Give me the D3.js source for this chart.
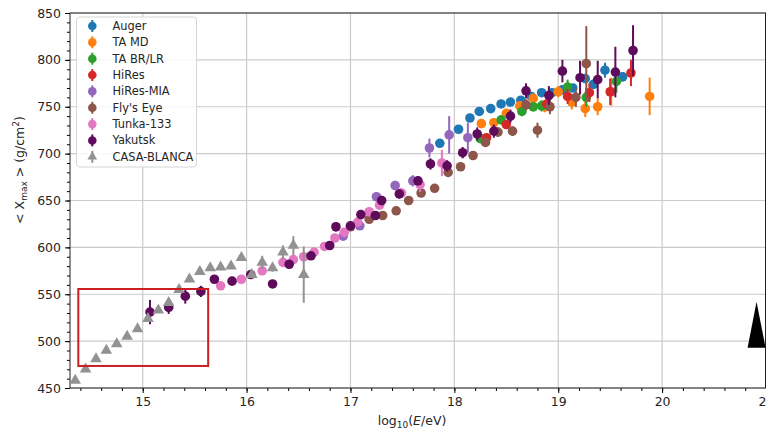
<!DOCTYPE html>
<html>
<head>
<meta charset="utf-8">
<script src="https://cdn.jsdelivr.net/npm/d3@7"></script>
<style>
  body { margin: 0; background: #fff; }
  text { font-family: "DejaVu Sans", sans-serif; fill: #262626; }
</style>
</head>
<body>
<div class="chart"></div>
<script>
// series data, log10(E/eV) vs <Xmax> (g/cm2) with errors
const augerLogE = [17.86, 18.04, 18.15, 18.24, 18.35, 18.45, 18.54, 18.64, 18.74, 18.84, 18.94, 19.04, 19.14, 19.26, 19.34, 19.45, 19.62];
const augerX    = [711, 726, 738, 745, 748, 753, 755, 757, 761, 765, 765, 768, 770, 780, 774, 789, 782];
const augerErr  = [3, 2, 2, 2, 2, 2, 2, 2, 2, 2, 3, 3, 3, 4, 5, 8, 5];

const tamdLogE = [18.26, 18.38, 18.5, 18.63, 18.76, 18.87, 19.0, 19.13, 19.26, 19.38, 19.51, 19.88];
const tamdX    = [732, 733, 743, 751, 759, 750, 766, 755, 748, 750, 766, 761];
const tamdErr  = [4, 4, 4, 5, 5, 6, 6, 8, 9, 9, 15, 20];

const tabrLogE = [18.25, 18.45, 18.65, 18.76, 18.84, 19.09, 19.27, 19.56];
const tabrX    = [716, 736, 745, 750, 751, 771, 760, 777];
const tabrErr  = [4, 4, 5, 5, 6, 8, 10, 12];

const hiresLogE = [18.31, 18.5, 18.89, 19.09, 19.3, 19.5, 19.7];
const hiresX    = [717, 731, 753, 761, 765, 766, 786];
const hiresErr  = [4, 4, 6, 8, 10, 14, 14];

const miaLogE = [16.93, 17.09, 17.25, 17.43, 17.6, 17.76, 17.95, 18.13];
const miaX    = [612, 623, 654, 666, 671, 706, 720, 717];
const miaErr  = [4, 4, 5, 5, 6, 10, 20, 16];

const flyLogE = [17.0, 17.18, 17.31, 17.44, 17.56, 17.68, 17.81, 17.94, 18.06, 18.18, 18.3, 18.42, 18.56, 18.69, 18.8, 18.92, 19.17, 19.27];
const flyX    = [622, 630, 634, 639, 650, 658, 663, 680, 686, 698, 712, 723, 724, 752, 725, 750, 760, 796];
const flyErr  = [3, 3, 3, 3, 3, 3, 3, 3, 4, 4, 4, 5, 5, 6, 8, 8, 10, 40];

const tunkaLogE = [15.75, 15.95, 16.15, 16.35, 16.45, 16.55, 16.65, 16.75, 16.85, 16.94, 17.07, 17.18, 17.28, 17.49, 17.67, 17.88];
const tunkaX    = [559, 566, 575, 584, 587, 590, 595, 601, 610, 616, 627, 638, 645, 658, 667, 690];
const tunkaErr  = [3, 3, 3, 3, 3, 3, 3, 3, 3, 3, 3, 4, 4, 5, 8, 14];

const yakLogE = [15.07, 15.25, 15.41, 15.56, 15.69, 15.86, 16.04, 16.25, 16.41, 16.62, 16.8, 16.86, 17.0, 17.1, 17.24, 17.3, 17.47, 17.65, 17.77, 17.93, 18.08, 18.22, 18.38, 18.54, 18.69, 18.91, 19.04, 19.21, 19.38, 19.55, 19.72];
const yakX    = [531, 536, 548, 553, 566, 564, 571, 561, 582, 591, 602, 622, 623, 635, 634, 650, 657, 671, 689, 687, 701, 721, 724, 740, 767, 762, 788, 781, 779, 787, 810];
const yakErr  = [13, 7, 8, 6, 4, 4, 4, 4, 4, 4, 4, 5, 4, 4, 4, 5, 5, 5, 6, 6, 6, 7, 7, 7, 8, 10, 12, 18, 20, 27, 27];

const casaLogE = [14.35, 14.45, 14.55, 14.65, 14.75, 14.85, 14.95, 15.05, 15.15, 15.25, 15.35, 15.45, 15.55, 15.65, 15.75, 15.85, 15.95, 16.05, 16.15, 16.25, 16.35, 16.45, 16.55];
const casaX    = [458, 470, 481, 490, 497, 505, 513, 524, 533, 541, 555, 566, 574, 578, 579, 580, 589, 571, 584, 578, 595, 602, 571];
const casaErr  = [2, 2, 2, 2, 2, 2, 2, 2, 2, 2, 2, 2, 2, 2, 2, 2, 3, 4, 7, 4, 7, 10, 30];

// highlighted region and the black marker on the right edge
const boxLogE = [14.38, 15.63];
const boxX    = [473.5, 555.6];
const bigTriLogE = [20.823, 20.909, 20.996];
const bigTriX    = [493, 542, 493];

const xTicks = [15, 16, 17, 18, 19, 20, 21];
const yTicks = [450, 500, 550, 600, 650, 700, 750, 800, 850];

const series = [
  { name: 'Auger',       color: '#1f77b4', logE: augerLogE, x: augerX, err: augerErr, shape: 'circle' },
  { name: 'TA MD',       color: '#ff7f0e', logE: tamdLogE,  x: tamdX,  err: tamdErr,  shape: 'circle' },
  { name: 'TA BR/LR',    color: '#2ca02c', logE: tabrLogE,  x: tabrX,  err: tabrErr,  shape: 'circle' },
  { name: 'HiRes',       color: '#d62728', logE: hiresLogE, x: hiresX, err: hiresErr, shape: 'circle' },
  { name: 'HiRes-MIA',   color: '#9467bd', logE: miaLogE,   x: miaX,   err: miaErr,   shape: 'circle' },
  { name: "Fly's Eye",   color: '#8c564b', logE: flyLogE,   x: flyX,   err: flyErr,   shape: 'circle' },
  { name: 'Tunka-133',   color: '#e377c2', logE: tunkaLogE, x: tunkaX, err: tunkaErr, shape: 'circle' },
  { name: 'Yakutsk',     color: '#5e0b5c', logE: yakLogE,   x: yakX,   err: yakErr,   shape: 'circle' },
  { name: 'CASA-BLANCA', color: '#929292', logE: casaLogE,  x: casaX,  err: casaErr,  shape: 'triangle' }
];

const width = 766;
const height = 432;
const plotLeft = 70, plotRight = 766, plotTop = 13, plotBottom = 388;

let xScale = d3.scaleLinear().domain([14.3, 21]).range([plotLeft, plotRight]);
let yScale = d3.scaleLinear().domain([450, 850]).range([plotBottom, plotTop]);

let svg = d3.select('.chart').append('svg')
  .attr('width', width)
  .attr('height', height);

svg.append('defs').append('clipPath').attr('id', 'plotClip')
  .append('rect')
  .attr('x', plotLeft).attr('y', plotTop)
  .attr('width', plotRight - plotLeft).attr('height', plotBottom - plotTop);

// grid
let grid = svg.append('g');
grid.selectAll('.gx').data(xTicks).enter().append('line')
  .attr('x1', d => xScale(d)).attr('x2', d => xScale(d))
  .attr('y1', plotTop).attr('y2', plotBottom)
  .style('stroke', '#cbcbcb').style('stroke-width', 1.2);
grid.selectAll('.gy').data(yTicks).enter().append('line')
  .attr('x1', plotLeft).attr('x2', plotRight)
  .attr('y1', d => yScale(d)).attr('y2', d => yScale(d))
  .style('stroke', '#cbcbcb').style('stroke-width', 1.2);

// axes
let xMinor = d3.range(14.4, 21.01, 0.2);
let yMinor = d3.range(450, 851, 10);

svg.append('g')
  .attr('transform', 'translate(0,' + plotBottom + ')')
  .call(d3.axisBottom(xScale).tickValues(xMinor).tickSize(3).tickFormat(''))
  .call(g => g.select('.domain').remove());
svg.append('g')
  .attr('transform', 'translate(' + plotLeft + ',0)')
  .call(d3.axisLeft(yScale).tickValues(yMinor).tickSize(3).tickFormat(''))
  .call(g => g.select('.domain').remove());

let xAxis = svg.append('g')
  .attr('transform', 'translate(0,' + plotBottom + ')')
  .call(d3.axisBottom(xScale).tickValues(xTicks).tickSize(5).tickPadding(4).tickFormat(d3.format('d')));
let yAxis = svg.append('g')
  .attr('transform', 'translate(' + plotLeft + ',0)')
  .call(d3.axisLeft(yScale).tickValues(yTicks).tickSize(5).tickPadding(4).tickFormat(d3.format('d')));
[xAxis, yAxis].forEach(a => {
  a.selectAll('text').style('font-size', '12.5px').style('fill', '#262626')
    .style('font-family', '"DejaVu Sans", sans-serif');
  a.select('.domain').remove();
});

// frame
svg.append('rect')
  .attr('x', plotLeft).attr('y', plotTop)
  .attr('width', plotRight - plotLeft - 0.5).attr('height', plotBottom - plotTop)
  .style('fill', 'none').style('stroke', '#222').style('stroke-width', 1);

// data
let plot = svg.append('g').attr('clip-path', 'url(#plotClip)');
let tri = d3.symbol().type(d3.symbolTriangle).size(58);

series.forEach(s => {
  let pts = s.logE.map((e, i) => ({ e: e, v: s.x[i], err: s.err[i] }));
  let g = plot.append('g');
  g.selectAll('line').data(pts).enter().append('line')
    .attr('x1', d => xScale(d.e)).attr('x2', d => xScale(d.e))
    .attr('y1', d => yScale(d.v - d.err)).attr('y2', d => yScale(d.v + d.err))
    .style('stroke', s.color).style('stroke-width', 2);
  if (s.shape === 'circle') {
    g.selectAll('circle').data(pts).enter().append('circle')
      .attr('cx', d => xScale(d.e)).attr('cy', d => yScale(d.v))
      .attr('r', 4.8)
      .style('fill', s.color);
  } else {
    g.selectAll('path').data(pts).enter().append('path')
      .attr('d', tri)
      .attr('transform', d => 'translate(' + xScale(d.e) + ',' + yScale(d.v) + ')')
      .style('fill', s.color);
  }
});

// red box
plot.append('rect')
  .attr('x', xScale(boxLogE[0])).attr('y', yScale(boxX[1]))
  .attr('width', xScale(boxLogE[1]) - xScale(boxLogE[0]))
  .attr('height', yScale(boxX[0]) - yScale(boxX[1]))
  .style('fill', 'none').style('stroke', '#cc2020').style('stroke-width', 2);

// big black triangle
let triLine = d3.line().x(d => xScale(d[0])).y(d => yScale(d[1]));
plot.append('path')
  .attr('d', triLine(bigTriLogE.map((e, i) => [e, bigTriX[i]])) + 'Z')
  .style('fill', '#000');

// legend
let legend = svg.append('g');
legend.append('rect')
  .attr('x', 76.5).attr('y', 17).attr('width', 120).attr('height', 150).attr('rx', 3)
  .style('fill', 'rgba(255,255,255,0.85)').style('stroke', '#d6d6d6');
series.forEach((s, i) => {
  let cy = 26 + i * 16.35;
  legend.append('line')
    .attr('x1', 92.3).attr('x2', 92.3).attr('y1', cy - 6).attr('y2', cy + 6)
    .style('stroke', s.color).style('stroke-width', 2);
  if (s.shape === 'circle') {
    legend.append('circle').attr('cx', 92.3).attr('cy', cy).attr('r', 4.3).style('fill', s.color);
  } else {
    legend.append('path').attr('d', d3.symbol().type(d3.symbolTriangle).size(40))
      .attr('transform', 'translate(92.3,' + cy + ')').style('fill', s.color);
  }
  legend.append('text')
    .attr('x', 112.5).attr('y', cy + 4)
    .style('font-size', '11.4px')
    .text(s.name);
});

// axis labels
let xl = svg.append('text')
  .attr('x', 412).attr('y', 425)
  .attr('text-anchor', 'middle')
  .style('font-size', '12.5px');
xl.append('tspan').text('log');
xl.append('tspan').attr('dy', 3).style('font-size', '9px').text('10');
xl.append('tspan').attr('dy', -3).text('(');
xl.append('tspan').style('font-style', 'italic').text('E');
xl.append('tspan').text('/eV)');

let yl = svg.append('text')
  .attr('transform', 'translate(24,170) rotate(-90)')
  .attr('text-anchor', 'middle')
  .style('font-size', '12.5px');
yl.append('tspan').text('< X');
yl.append('tspan').attr('dy', 3).style('font-size', '9px').text('max');
yl.append('tspan').attr('dy', -3).text(' >  (g/cm');
yl.append('tspan').attr('dy', -5).style('font-size', '9px').text('2');
yl.append('tspan').attr('dy', 5).text(')');
</script>
</body>
</html>
